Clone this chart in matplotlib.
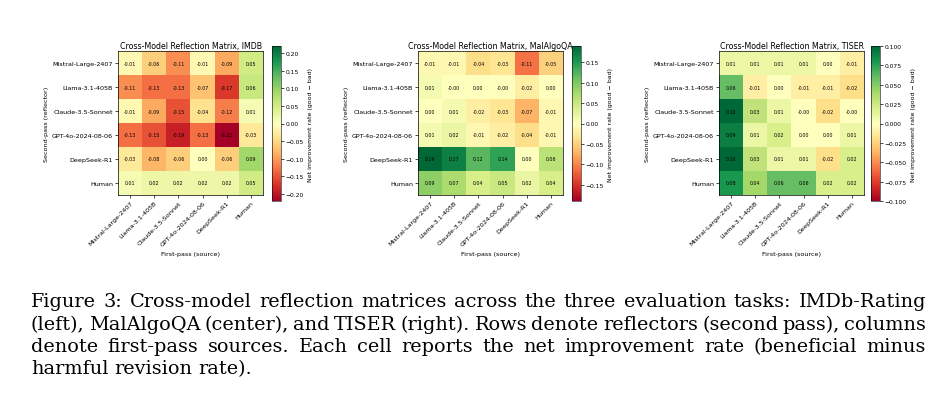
import numpy as np
import matplotlib
matplotlib.use("Agg")
import matplotlib.pyplot as plt

models = ["Mistral-Large-2407", "Llama-3.1-405B", "Claude-3.5-Sonnet",
          "GPT-4o-2024-08-06", "DeepSeek-R1", "Human"]

imdb = [
    [-0.01, -0.06, -0.11, -0.01, -0.09, 0.05],
    [-0.11, -0.13, -0.13, -0.07, -0.17, 0.06],
    [-0.01, -0.09, -0.15, -0.04, -0.12, 0.01],
    [-0.13, -0.15, -0.19, -0.13, -0.22, -0.03],
    [-0.03, -0.08, -0.06, 0.00, -0.06, 0.09],
    [0.01, 0.02, 0.02, 0.02, 0.02, 0.05],
]
malalgoqa = [
    [-0.01, -0.01, -0.04, -0.03, -0.11, -0.05],
    [0.01, -0.00, 0.00, -0.00, -0.02, 0.00],
    [0.00, 0.01, -0.02, -0.03, -0.07, -0.01],
    [0.01, 0.02, -0.01, -0.02, -0.04, -0.01],
    [0.19, 0.17, 0.12, 0.14, 0.00, 0.06],
    [0.09, 0.07, 0.04, 0.05, 0.02, 0.04],
]
tiser = [
    [0.01, 0.01, 0.01, 0.01, 0.00, -0.01],
    [0.06, -0.01, 0.00, -0.01, -0.01, -0.02],
    [0.10, 0.03, 0.01, -0.00, -0.02, -0.00],
    [0.09, 0.01, 0.02, 0.00, 0.00, 0.01],
    [0.10, 0.03, 0.01, 0.01, -0.02, 0.02],
    [0.08, 0.04, 0.06, 0.06, 0.02, 0.02],
]
titles = ["Cross-Model Reflection Matrix, IMDB",
          "Cross-Model Reflection Matrix, MalAlgoQA",
          "Cross-Model Reflection Matrix, TISER"]

caption_lines = [
    "Figure 3: Cross-model reflection matrices across the three evaluation tasks: IMDb-Rating",
    "(left), MalAlgoQA (center), and TISER (right). Rows denote reflectors (second pass), columns",
    "denote first-pass sources.  Each cell reports the net improvement rate (beneficial minus",
    "harmful revision rate).",
]

W, H = 942, 410
fig = plt.figure(figsize=(W / 100, H / 100), dpi=100)
fig.patch.set_facecolor("white")

def px_rect(x0, y0, x1, y1):
    return [x0 / W, 1 - y1 / H, (x1 - x0) / W, (y1 - y0) / H]

heat_x = [118, 418, 719]
cbar_x = [272, 572, 871]
fs_tick = 4.6
for k, data in enumerate([imdb, malalgoqa, tiser]):
    arr = np.array(data)
    vmax = np.abs(arr).max()
    ax = fig.add_axes(px_rect(heat_x[k], 52, heat_x[k] + 145, 196))
    im = ax.imshow(arr, cmap="RdYlGn", vmin=-vmax, vmax=vmax, aspect="auto")
    for i in range(arr.shape[0]):
        for j in range(arr.shape[1]):
            ax.text(j, i, f"{arr[i, j]:.2f}", ha="center", va="center",
                    fontsize=3.4, color="black")
    ax.set_xticks(range(len(models)))
    ax.set_yticks(range(len(models)))
    ax.set_xticklabels(models, rotation=45, ha="right", rotation_mode="anchor",
                       fontsize=fs_tick)
    ax.set_yticklabels(models, fontsize=fs_tick)
    ax.tick_params(length=2, width=0.5, pad=1.5)
    for s in ax.spines.values():
        s.set_linewidth(0.5)
    ax.set_title(titles[k], fontsize=5.7, pad=2)
    ax.set_xlabel("First-pass (source)", fontsize=fs_tick, labelpad=3)
    ax.set_ylabel("Second-pass (reflector)", fontsize=fs_tick, labelpad=2)
    cax = fig.add_axes(px_rect(cbar_x[k], 47, cbar_x[k] + 9, 202))
    cb = fig.colorbar(im, cax=cax)
    cb.ax.tick_params(labelsize=4.3, length=2, width=0.5, pad=1.5)
    cb.outline.set_linewidth(0.4)
    cb.set_label("Net improvement rate (good \u2212 bad)", fontsize=4.5, labelpad=3)

# caption, justified
renderer = fig.canvas.get_renderer()
cap_family = "DejaVu Serif"
x_left, x_right = 31, 926
base_y = [307, 330, 352, 374]

probe = fig.text(0, 0, caption_lines[0], fontsize=10, family=cap_family)
w10 = probe.get_window_extent(renderer).width
probe.remove()
cap_fs = 10 * (x_right - x_left) / w10 * 0.985

for li, line in enumerate(caption_lines):
    words = line.split()
    texts = [fig.text(0, 0, w, fontsize=cap_fs, family=cap_family,
                      ha="left", va="baseline") for w in words]
    widths = [t.get_window_extent(renderer).width for t in texts]
    if li < len(caption_lines) - 1:
        gap = (x_right - x_left - sum(widths)) / (len(words) - 1)
    else:
        sp = fig.text(0, 0, "a a", fontsize=cap_fs, family=cap_family)
        sa = fig.text(0, 0, "aa", fontsize=cap_fs, family=cap_family)
        gap = sp.get_window_extent(renderer).width - sa.get_window_extent(renderer).width
        sp.remove(); sa.remove()
    x = x_left
    for t, w in zip(texts, widths):
        t.set_position((x / W, 1 - base_y[li] / H))
        x += w + gap

fig.savefig("out.png", dpi=100, facecolor="white")
